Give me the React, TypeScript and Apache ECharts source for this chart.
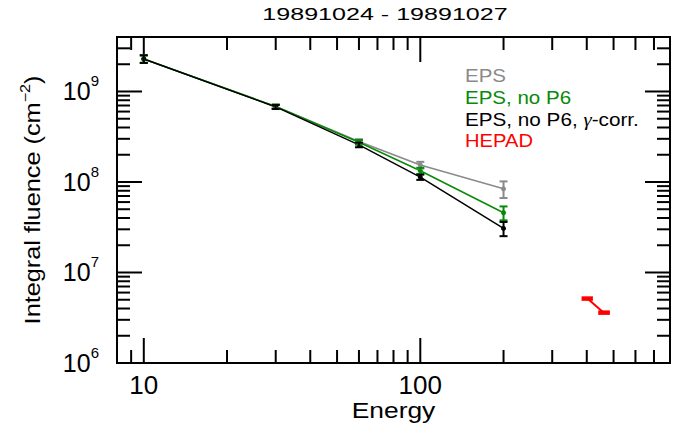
import React, { useEffect, useRef } from "react";
import * as echarts from "echarts";

const X_MIN = 8;
const X_MAX = 800;
const Y_MIN = 1e6;
const Y_MAX = 4e9;

const energies = [10, 30, 60, 100, 200];
const epsValues = [2.29e9, 6.82e8, 2.8e8, 1.54e8, 8.4e7];
const epsErrors = [2.2e8, 3.5e7, 1.7e7, 1.3e7, 1.75e7];
const noP6Values = [2.29e9, 6.82e8, 2.75e8, 1.33e8, 4.57e7];
const noP6Errors = [2.2e8, 3.5e7, 1.6e7, 1.05e7, 8e6];
const gammaValues = [2.29e9, 6.75e8, 2.57e8, 1.13e8, 3.07e7];
const gammaErrors = [2.2e8, 3.5e7, 1.5e7, 7.5e6, 5.5e6];

const hepadEnergies = [402, 461];
const hepadLow = [383, 440];
const hepadHigh = [421, 485];
const hepadValues = [5.15e6, 3.6e6];

const xMajorTicks = [10, 100];
const xMinorTicks = [9, 20, 30, 40, 50, 60, 70, 80, 90, 200, 300, 400, 500, 600, 700];
const yMajorTicks = [1e7, 1e8, 1e9];
const yMinorTicks = [
  2e6, 3e6, 4e6, 5e6, 6e6, 7e6, 8e6, 9e6,
  2e7, 3e7, 4e7, 5e7, 6e7, 7e7, 8e7, 9e7,
  2e8, 3e8, 4e8, 5e8, 6e8, 7e8, 8e8, 9e8,
  2e9, 3e9,
];

const GRAY = "#8a8a8a";
const GREEN = "#078a07";
const BLACK = "#000000";
const RED = "#ff0000";
const FONT = "Liberation Sans, Arial, Helvetica, sans-serif";

function lineSeries(name: string, values: number[], color: string) {
  return {
    type: "line",
    name,
    data: energies.map((e, i) => [e, values[i]]),
    showSymbol: true,
    symbol: "circle",
    symbolSize: 5,
    lineStyle: { color, width: 1.5 },
    itemStyle: { color },
    z: 3,
  };
}

function errorSeries(values: number[], errors: number[], color: string) {
  return {
    type: "custom",
    data: energies.map((e, i) => [e, values[i], values[i] - errors[i], values[i] + errors[i]]),
    renderItem: (params: any, api: any) => {
      const x = api.value(0);
      const lo = api.coord([x, api.value(2)]);
      const hi = api.coord([x, api.value(3)]);
      const w = 4;
      const st = { stroke: color, lineWidth: 2 };
      return {
        type: "group",
        children: [
          { type: "line", shape: { x1: lo[0], y1: lo[1], x2: hi[0], y2: hi[1] }, style: st },
          { type: "line", shape: { x1: lo[0] - w, y1: lo[1], x2: lo[0] + w, y2: lo[1] }, style: st },
          { type: "line", shape: { x1: hi[0] - w, y1: hi[1], x2: hi[0] + w, y2: hi[1] }, style: st },
        ],
      };
    },
    z: 4,
  };
}

export default function App() {
  const ref = useRef<HTMLDivElement>(null);
  useEffect(() => {
    if (!ref.current) return;
    const chart = echarts.init(ref.current, undefined, { renderer: "svg" });
    const isPow = (v: number) => {
      const l = Math.log10(v);
      return Math.abs(l - Math.round(l)) < 1e-6;
    };
    const xTickData = [
      ...xMajorTicks.map((v) => [v, Y_MIN, 1]),
      ...xMinorTicks.map((v) => [v, Y_MIN, 0]),
    ];
    const yTickData = [
      ...yMajorTicks.map((v) => [X_MIN, v, 1]),
      ...yMinorTicks.map((v) => [X_MIN, v, 0]),
    ];
    const tickStyle = { stroke: "#000", lineWidth: 2 };
    const option: any = {
      animation: false,
      grid: {
        left: 117,
        right: 14,
        top: 37,
        bottom: 67,
        show: true,
        borderColor: "#000",
        borderWidth: 2,
        backgroundColor: "transparent",
      },
      xAxis: {
        type: "log",
        logBase: 10,
        min: X_MIN,
        max: X_MAX,
        axisLine: { show: false },
        axisTick: { show: false },
        splitLine: { show: false },
        axisLabel: {
          margin: 9,
          fontSize: 26,
          fontFamily: FONT,
          color: "#000",
          formatter: (v: number) => (isPow(v) ? String(Math.round(v)) : ""),
        },
      },
      yAxis: {
        type: "log",
        logBase: 10,
        min: Y_MIN,
        max: Y_MAX,
        axisLine: { show: false },
        axisTick: { show: false },
        splitLine: { show: false },
        axisLabel: {
          margin: 18,
          fontFamily: FONT,
          color: "#000",
          formatter: (v: number) =>
            isPow(v) ? `{b|10}{s|${Math.round(Math.log10(v))}}` : "",
          rich: {
            b: { fontSize: 25, lineHeight: 36, fontFamily: FONT, color: "#000" },
            s: { fontSize: 15, lineHeight: 15, verticalAlign: "top", fontFamily: FONT, color: "#000" },
          },
        },
      },
      series: [
        {
          type: "custom",
          data: xTickData,
          silent: true,
          renderItem: (params: any, api: any) => {
            const cs = params.coordSys;
            const x = api.coord([api.value(0), Y_MIN])[0];
            const len = api.value(2) ? 25 : 13;
            const b = cs.y + cs.height;
            return {
              type: "group",
              children: [
                { type: "line", shape: { x1: x, y1: b, x2: x, y2: b - len }, style: tickStyle },
                { type: "line", shape: { x1: x, y1: cs.y, x2: x, y2: cs.y + len }, style: tickStyle },
              ],
            };
          },
          z: 2,
        },
        {
          type: "custom",
          data: yTickData,
          silent: true,
          renderItem: (params: any, api: any) => {
            const cs = params.coordSys;
            const y = api.coord([X_MIN, api.value(1)])[1];
            const len = api.value(2) ? 25 : 13;
            const r = cs.x + cs.width;
            return {
              type: "group",
              children: [
                { type: "line", shape: { x1: cs.x, y1: y, x2: cs.x + len, y2: y }, style: tickStyle },
                { type: "line", shape: { x1: r, y1: y, x2: r - len, y2: y }, style: tickStyle },
              ],
            };
          },
          z: 2,
        },
        lineSeries("EPS", epsValues, GRAY),
        errorSeries(epsValues, epsErrors, GRAY),
        lineSeries("EPS, no P6", noP6Values, GREEN),
        errorSeries(noP6Values, noP6Errors, GREEN),
        lineSeries("EPS, no P6, γ-corr.", gammaValues, BLACK),
        errorSeries(gammaValues, gammaErrors, BLACK),
        {
          type: "line",
          name: "HEPAD",
          data: hepadEnergies.map((e, i) => [e, hepadValues[i]]),
          showSymbol: false,
          lineStyle: { color: RED, width: 2 },
          z: 3,
        },
        {
          type: "custom",
          data: hepadEnergies.map((e, i) => [e, hepadValues[i], hepadLow[i], hepadHigh[i]]),
          renderItem: (params: any, api: any) => {
            const yv = api.value(1);
            const a = api.coord([api.value(2), yv]);
            const b = api.coord([api.value(3), yv]);
            return {
              type: "line",
              shape: { x1: a[0], y1: a[1], x2: b[0], y2: b[1] },
              style: { stroke: RED, lineWidth: 4.5 },
            };
          },
          z: 4,
        },
      ],
      graphic: [
        {
          type: "text",
          x: 385,
          y: 14,
          scaleX: 1.52,
          style: {
            text: "19891024 - 19891027",
            fontSize: 16.5,
            fontFamily: FONT,
            fill: "#000",
            align: "center",
            verticalAlign: "middle",
          },
        },
        {
          type: "text",
          x: 393.5,
          y: 410,
          scaleX: 1.2,
          style: {
            text: "Energy",
            fontSize: 22,
            fontFamily: FONT,
            fill: "#000",
            align: "center",
            verticalAlign: "middle",
          },
        },
        {
          type: "text",
          x: 33,
          y: 200,
          rotation: Math.PI / 2,
          scaleX: 1.15,
          style: {
            text: "{a|Integral fluence (cm}{s|−2}{a|)}",
            align: "center",
            verticalAlign: "middle",
            rich: {
              a: { fontSize: 22, lineHeight: 30, fontFamily: FONT, fill: "#000" },
              s: { fontSize: 14, lineHeight: 14, verticalAlign: "top", fontFamily: FONT, fill: "#000" },
            },
          },
        },
        {
          type: "text",
          x: 465,
          y: 76,
          scaleX: 1.14,
          style: { text: "EPS", fontSize: 18, fontFamily: FONT, fill: GRAY, verticalAlign: "middle" },
        },
        {
          type: "text",
          x: 465,
          y: 98,
          scaleX: 1.14,
          style: { text: "EPS, no P6", fontSize: 18, fontFamily: FONT, fill: GREEN, verticalAlign: "middle" },
        },
        {
          type: "text",
          x: 465,
          y: 119.5,
          scaleX: 1.15,
          style: {
            text: "{n|EPS, no P6, }{g|γ}{n|-corr.}",
            verticalAlign: "middle",
            rich: {
              n: { fontSize: 18, fontFamily: FONT, fill: "#000" },
              g: { fontSize: 18, fontFamily: "Liberation Serif, DejaVu Serif, serif", fontStyle: "italic", fill: "#000" },
            },
          },
        },
        {
          type: "text",
          x: 465,
          y: 140.5,
          scaleX: 1.12,
          style: { text: "HEPAD", fontSize: 18, fontFamily: FONT, fill: RED, verticalAlign: "middle" },
        },
      ],
    };
    chart.setOption(option);
    return () => chart.dispose();
  }, []);
  return <div ref={ref} style={{ width: 684, height: 430, position: "absolute", left: 0, top: 0 }} />;
}
